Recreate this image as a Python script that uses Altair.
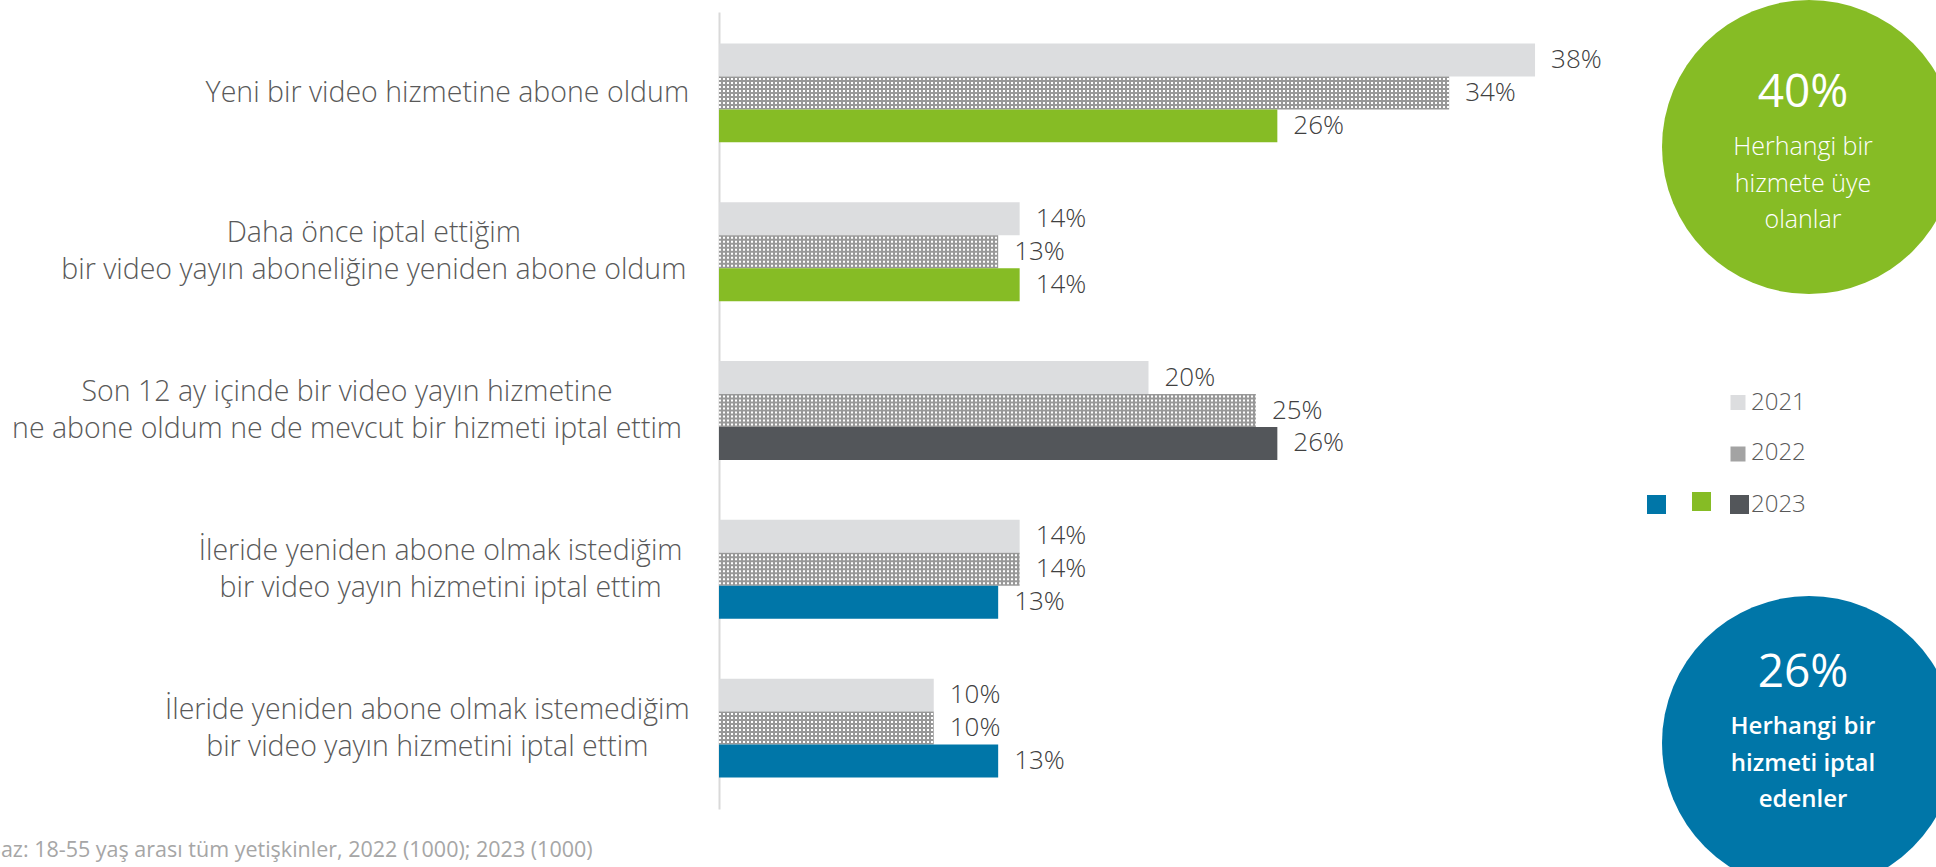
import altair as alt
import pandas as pd

# ---------------- data ----------------
categories = [
    "Yeni bir video hizmetine abone oldum",
    "Daha önce iptal ettiğim\nbir video yayın aboneliğine yeniden abone oldum",
    "Son 12 ay içinde bir video yayın hizmetine\nne abone oldum ne de mevcut bir hizmeti iptal ettim",
    "İleride yeniden abone olmak istediğim\nbir video yayın hizmetini iptal ettim",
    "İleride yeniden abone olmak istemediğim\nbir video yayın hizmetini iptal ettim",
]
groups = ["abone", "abone", "yok", "iptal", "iptal"]
years = ["2021", "2022", "2023"]
values_2021 = [38, 14, 20, 14, 10]
values_2022 = [34, 13, 25, 14, 10]
values_2023 = [26, 14, 26, 13, 13]
summary_values = ["40%", "26%"]
summary_captions = [
    ["Herhangi bir", "hizmete üye", "olanlar"],
    ["Herhangi bir", "hizmeti iptal", "edenler"],
]
footnote = "Baz: 18-55 yaş arası tüm yetişkinler, 2022 (1000); 2023 (1000)"

# ---------------- styling ----------------
FONT = "Open Sans"
W, H = 859, 797
PAD_L, PAD_T = 719, 12
XMAX = 40
LIGHT, PATTERN, DARK = "#dcdddf", "#989898", "#53565a"
GREEN, BLUE = "#86bc25", "#0076a8"
key_domain = ["2021", "2022", "abone", "yok", "iptal"]
key_range = [LIGHT, PATTERN, GREEN, DARK, BLUE]
CAT_FS = 28.5
CAT_LH = 37
CW = 13.37  # approx. average glyph advance for the category labels

rows = []
for i, cat in enumerate(categories):
    for y, vals in zip(years, [values_2021, values_2022, values_2023]):
        rows.append({
            "cat": cat,
            "year": y,
            "value": vals[i],
            "key": y if y != "2023" else groups[i],
        })
df = pd.DataFrame(rows)

lab_df = pd.DataFrame({
    "cat": categories,
    "maxlen": [max(len(s) for s in c.split("\n")) for c in categories],
    "nlines": [len(c.split("\n")) for c in categories],
})

ysc = alt.Scale(domain=categories, paddingInner=0.377, paddingOuter=0.198)
xsc = alt.Scale(domain=[0, XMAX])
yaxis = alt.Axis(labels=False, ticks=False, title=None, grid=False,
                 domainColor="#d9d9d9", domainWidth=2)
yoff = alt.YOffset("year:N", scale=alt.Scale(domain=years, paddingInner=0, paddingOuter=0))

base = alt.Chart(df)

bars = base.mark_bar(strokeWidth=0).encode(
    y=alt.Y("cat:N", scale=ysc, axis=yaxis),
    x=alt.X("value:Q", scale=xsc, axis=None),
    yOffset=yoff,
    color=alt.Color("key:N", scale=alt.Scale(domain=key_domain, range=key_range), legend=None),
)

# dotted texture for 2022 bars: white dashed rows over a gray bar
pattern_layers = []
for k in range(8):
    pattern_layers.append(
        base.transform_filter("datum.year == '2022'").transform_calculate(zero="0").mark_rule(
            yOffset=-14 + 4 * k, color="white", strokeWidth=2,
            strokeDash=[2, 2], strokeCap="butt",
        ).encode(
            y=alt.Y("cat:N", scale=ysc, axis=yaxis),
            x=alt.X("zero:Q", scale=xsc, axis=None),
            x2=alt.X2("value:Q"),
        )
    )

value_labels = base.transform_calculate(
    lbl="datum.value + '%'"
).mark_text(
    align="left", baseline="middle", dx=16, fontSize=26, color="#404040", font=FONT, fontWeight=300
).encode(
    y=alt.Y("cat:N", scale=ysc, axis=yaxis),
    x=alt.X("value:Q", scale=xsc, axis=None),
    yOffset=yoff,
    text="lbl:N",
)

cat_layers = []
for n in sorted(set(lab_df["nlines"])):
    cat_layers.append(
        alt.Chart(lab_df).transform_filter(f"datum.nlines == {n}").transform_calculate(
            lines="split(datum.cat, '\\n')",
            lx=f"(-31 - datum.maxlen * {CW} / 2) * {XMAX} / {W}",
        ).mark_text(
            align="center", baseline="middle", fontSize=CAT_FS, lineHeight=CAT_LH,
            color="#595959", font=FONT, fontWeight=300, dy=-(n - 1) * CAT_LH / 2,
        ).encode(
            y=alt.Y("cat:N", scale=ysc, axis=yaxis),
            x=alt.X("lx:Q", scale=xsc, axis=None),
            text="lines:N",
        )
    )

one = pd.DataFrame({"a": [0]})

# summary circles
R = 147
circle_colors = [GREEN, BLUE]
circle_cy = [135, 731]
num_y = [81, 661]
cap_y = [135, 715]
cap_weight = [300, 600]
cap_fs = [25, 24]
circle_layers = []
for i in range(2):
    circle_layers.append(
        alt.Chart(one).mark_circle(opacity=1, size=(2 * R) ** 2).encode(
            x=alt.value(1090), y=alt.value(circle_cy[i]), color=alt.value(circle_colors[i])
        )
    )
    circle_layers.append(
        alt.Chart(pd.DataFrame({"t": [summary_values[i]]})).mark_text(
            align="center", baseline="middle", fontSize=46, color="white", font=FONT,
            fontWeight=400,
        ).encode(x=alt.value(1084), y=alt.value(num_y[i]), text="t:N")
    )
    circle_layers.append(
        alt.Chart(pd.DataFrame({"c": [" | ".join(summary_captions[i])]})).transform_calculate(
            lines="split(datum.c, ' | ')"
        ).mark_text(
            align="center", baseline="middle", fontSize=cap_fs[i], lineHeight=36.5, color="white",
            font=FONT, fontWeight=cap_weight[i],
        ).encode(x=alt.value(1084), y=alt.value(cap_y[i]), text="lines:N")
    )

# custom legend
legend_layers = []
leg_colors = [LIGHT, "#a3a3a3", DARK]
leg_sizes = [225, 225, 361]
leg_sq_y = [390.5, 442, 492.5]
leg_txt_y = [391, 441, 493]
for i, yr in enumerate(years):
    legend_layers.append(
        alt.Chart(one).mark_square(opacity=1, size=leg_sizes[i]).encode(
            x=alt.value(1019 + (1.5 if i == 2 else 0)), y=alt.value(leg_sq_y[i]),
            color=alt.value(leg_colors[i]),
        )
    )
    legend_layers.append(
        alt.Chart(pd.DataFrame({"t": [yr]})).mark_text(
            align="left", baseline="middle", fontSize=24, color="#595959", font=FONT, fontWeight=300,
        ).encode(x=alt.value(1032), y=alt.value(leg_txt_y[i]), text="t:N")
    )
legend_layers.append(
    alt.Chart(one).mark_square(opacity=1, size=361).encode(
        x=alt.value(937.5), y=alt.value(492.5), color=alt.value(BLUE))
)
legend_layers.append(
    alt.Chart(one).mark_square(opacity=1, size=361).encode(
        x=alt.value(982.5), y=alt.value(489.5), color=alt.value(GREEN))
)

foot = alt.Chart(pd.DataFrame({"t": [footnote]})).mark_text(
    align="left", baseline="middle", fontSize=21.5, color="#a6a6a6", font=FONT,
).encode(x=alt.value(-732), y=alt.value(839), text="t:N")

chart = alt.layer(
    bars, *pattern_layers, value_labels, *cat_layers, *circle_layers, *legend_layers, foot
).properties(
    width=W, height=H,
    autosize=alt.AutoSizeParams(type="none"),
    padding={"left": PAD_L, "top": PAD_T, "right": 1936 - PAD_L - W, "bottom": 867 - PAD_T - H},
).configure_view(stroke=None)

chart.save("out.html", embed_options={"renderer": "svg", "actions": False})
